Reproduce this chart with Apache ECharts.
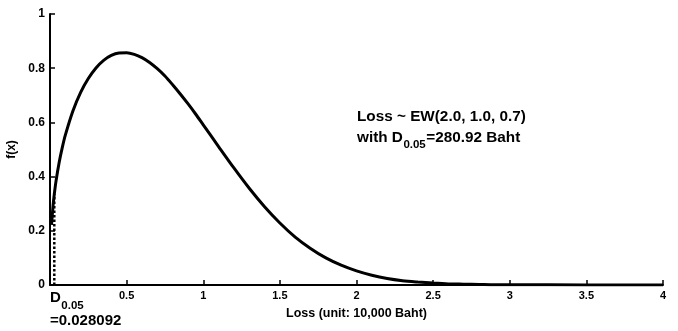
<!DOCTYPE html>
<html>
<head>
<meta charset="utf-8">
<script src="https://cdn.jsdelivr.net/npm/echarts@6/dist/echarts.min.js"></script>
<style>
  html, body {margin: 0; padding: 0; background: #fff;}
  #chart {width: 678px; height: 331px;}
</style>
</head>
<body>
<div id="chart"></div>
<script>
// values
const lossX = [0.01, 0.02, 0.028, 0.04, 0.06, 0.08, 0.1, 0.15, 0.2, 0.25, 0.3, 0.35, 0.4, 0.45, 0.5,
  0.55, 0.6, 0.65, 0.7, 0.75, 0.8, 0.85, 0.9, 0.95, 1.0, 1.1, 1.2, 1.3, 1.4, 1.5, 1.6, 1.7, 1.8,
  1.9, 2.0, 2.1, 2.2, 2.3, 2.4, 2.5, 2.6, 2.7, 2.8, 2.9, 3.0, 3.5, 4.0]
const densY = [0.222, 0.293, 0.335, 0.386, 0.453, 0.507, 0.553, 0.643, 0.711, 0.762, 0.801, 0.829, 0.847, 0.856, 0.857,
  0.851, 0.839, 0.821, 0.798, 0.771, 0.739, 0.705, 0.669, 0.631, 0.591, 0.511, 0.432, 0.357, 0.289, 0.229, 0.177, 0.135, 0.100,
  0.073, 0.052, 0.036, 0.024, 0.016, 0.011, 0.007, 0.004, 0.003, 0.002, 0.001, 0.001, 0, 0]
const dX = [0.028, 0.028]
const dY = [0, 0.335]

const fontFamily = '"Liberation Sans", Arial, sans-serif'
const black = '#000'

const ctx = document.createElement('canvas').getContext('2d')
const textWidth = (s, size) => {
  ctx.font = `bold ${size}px ${fontFamily}`
  return ctx.measureText(s).width
}

const txt = (x, y, text, size) => ({
  type: 'text',
  x,
  y,
  style: {
    text,
    font: `bold ${size}px ${fontFamily}`,
    fill: black,
    textAlign: 'left',
    textVerticalAlign: 'middle',
  },
})

const chart = echarts.init(document.getElementById('chart'))

const dLeft = 50
const noteLeft = 357
const withW = textWidth('with D', 15.3)
const subW = textWidth('0.05', 11.5)

chart.setOption({
  backgroundColor: '#fff',
  animation: false,
  grid: {
    left: 50,
    right: 15,
    top: 14,
    bottom: 46,
    containLabel: false,
    outerBoundsMode: 'none',
  },
  xAxis: {
    type: 'value',
    min: 0,
    max: 4,
    interval: 0.5,
    name: 'Loss (unit: 10,000 Baht)',
    nameLocation: 'middle',
    nameGap: 22,
    nameTextStyle: {fontSize: 12.5, fontWeight: 'bold', color: black, fontFamily},
    axisLine: {lineStyle: {color: black, width: 2}},
    axisTick: {inside: true, length: 5, lineStyle: {color: black, width: 1.5}},
    axisLabel: {
      fontSize: 11,
      fontWeight: 'bold',
      color: black,
      fontFamily,
      margin: 5,
      formatter: v => (v === 0 ? '' : String(v)),
    },
    splitLine: {show: false},
  },
  yAxis: {
    type: 'value',
    min: 0,
    max: 1,
    interval: 0.2,
    name: 'f(x)',
    nameLocation: 'middle',
    nameGap: 28,
    nameTextStyle: {fontSize: 12, fontWeight: 'bold', color: black, fontFamily},
    axisLine: {show: true, lineStyle: {color: black, width: 2}},
    axisTick: {show: true, inside: true, length: 5, lineStyle: {color: black, width: 1.5}},
    axisLabel: {
      fontSize: 12,
      fontWeight: 'bold',
      color: black,
      fontFamily,
      margin: 5,
    },
    splitLine: {show: false},
  },
  series: [{
    type: 'line',
    data: dX.map((x, i) => [x, dY[i]]),
    symbol: 'none',
    lineStyle: {color: black, width: 2.5, type: [2.5, 2]},
    z: 1,
  }, {
    type: 'line',
    data: lossX.map((x, i) => [x, densY[i]]),
    symbol: 'none',
    smooth: 0.3,
    lineStyle: {color: black, width: 3},
    z: 2,
  }],
  graphic: [
    txt(dLeft, 298, 'D', 15),
    txt(dLeft + textWidth('D', 15) + 0.5, 306, '0.05', 11.5),
    txt(dLeft, 321, '=0.028092', 15),
    txt(noteLeft, 117, 'Loss ~ EW(2.0, 1.0, 0.7)', 15.3),
    txt(noteLeft, 138, 'with D', 15.3),
    txt(noteLeft + withW + 0.5, 145, '0.05', 11.5),
    txt(noteLeft + withW + subW + 1, 138, '=280.92 Baht', 15.3),
  ],
})
</script>
</body>
</html>
